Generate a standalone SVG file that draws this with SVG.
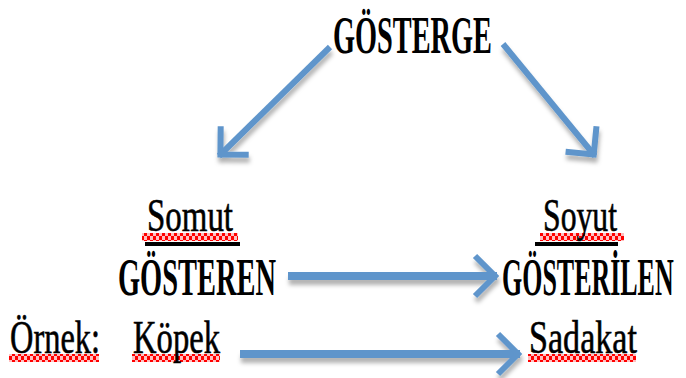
<svg xmlns="http://www.w3.org/2000/svg" width="686" height="378" viewBox="0 0 686 378">
<style>
  text { font-family: "Liberation Serif", "DejaVu Serif", serif; fill: #000; }
  .b { font-weight: bold; font-size: 53px; }
  .r { font-size: 46px; stroke: #000; stroke-width: 0.6; }
  .arrow { fill: none; stroke: #5F95CB; stroke-linecap: butt; marker-end: url(#head); }
  .diag { stroke-width: 6; }
  .horiz { stroke-width: 8; }
  .ul { fill: #000; }
  .sq { fill: url(#squiggle); }
</style>
<defs>
  <marker id="head" markerUnits="userSpaceOnUse" viewBox="-30 -25 40 50" markerWidth="40" markerHeight="50" refX="2" refY="0" orient="auto" overflow="visible">
    <path d="M-20 -20 L0 0 L-20 20" fill="none" stroke="#5F95CB" stroke-width="6" stroke-linejoin="miter"/>
  </marker>
  <filter id="shadow" x="-20%" y="-50%" width="140%" height="200%">
    <feDropShadow dx="1" dy="5" stdDeviation="2" flood-color="#000" flood-opacity="0.3"/>
  </filter>
  <pattern id="squiggle" patternUnits="userSpaceOnUse" width="6" height="8">
    <rect width="6" height="8" fill="#ffc0c0"/>
    <rect x="0" y="0" width="3" height="4" fill="#ff0000"/>
    <rect x="3" y="4" width="3" height="4" fill="#ff0000"/>
  </pattern>
</defs>

<g id="connectors" filter="url(#shadow)">
  <path class="arrow diag" d="M330 47 L219 156"/>
  <path class="arrow diag" d="M503 44 L595 156"/>
  <path class="arrow horiz" d="M288 276 L497 276"/>
  <path class="arrow horiz" d="M240 354 L520 354"/>
</g>

<g id="gosterge">
  <text class="b" x="333" y="53" textLength="159" lengthAdjust="spacingAndGlyphs">GÖSTERGE</text>
</g>

<g id="gosteren">
  <rect class="sq" x="142" y="233" width="96" height="8"/>
  <rect class="ul" x="145" y="242" width="95" height="4"/>
  <text class="r" x="147" y="231" textLength="86" lengthAdjust="spacingAndGlyphs">Somut</text>
  <text class="b" x="118" y="295" textLength="158" lengthAdjust="spacingAndGlyphs">GÖSTEREN</text>
</g>

<g id="gosterilen">
  <rect class="sq" x="540" y="233" width="84" height="8"/>
  <rect class="ul" x="535" y="242" width="83" height="4"/>
  <text class="r" x="543" y="231" textLength="74" lengthAdjust="spacingAndGlyphs">Soyut</text>
  <text class="b" transform="translate(502 295) scale(0.49 1)" x="0" y="0">GÖSTERİLEN</text>
</g>

<g id="ornek">
  <rect class="sq" x="9" y="354" width="90" height="8"/>
  <text class="r" x="10" y="353" textLength="90" lengthAdjust="spacingAndGlyphs">Örnek:</text>
</g>

<g id="kopek">
  <rect class="sq" x="132" y="354" width="88" height="8"/>
  <text class="r" x="133" y="353" textLength="87" lengthAdjust="spacingAndGlyphs">Köpek</text>
</g>

<g id="sadakat">
  <rect class="sq" x="528" y="354" width="108" height="8"/>
  <text class="r" x="529" y="353" textLength="108" lengthAdjust="spacingAndGlyphs">Sadakat</text>
</g>
</svg>
